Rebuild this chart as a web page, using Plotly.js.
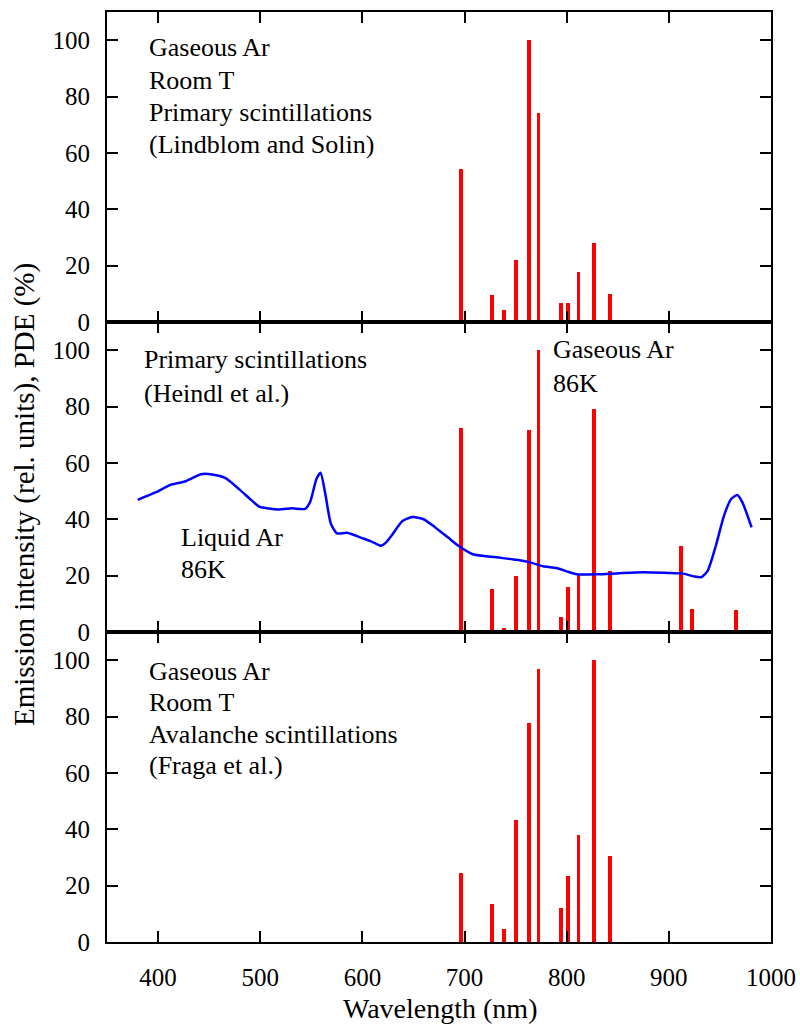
<!DOCTYPE html>
<html>
<head>
<meta charset="utf-8">
<script src="https://cdn.plot.ly/plotly-3.0.1.min.js"></script>
<style>html,body{margin:0;padding:0;background:#fff;}#chart{width:800px;height:1032px;}</style>
</head>
<body>
<div id="chart"></div>
<script>
// Ar I emission lines (nm)
const lineWl = [696.5, 727.3, 738.4, 750.4, 763.5, 772.4, 794.8, 801.5, 811.5, 826.5, 842.5];
// Top panel: gaseous Ar, room T, primary scintillations (Lindblom and Solin)
const topVal = [54.2, 9.6, 4.2, 21.9, 100, 74.0, 6.9, 6.9, 17.9, 27.9, 9.8];
// Middle panel: gaseous Ar 86K, primary scintillations (Heindl et al.)
const midWl = [696.5, 727.3, 738.4, 750.4, 763.5, 772.4, 794.8, 801.5, 811.5, 826.5, 842.5, 912.3, 922.4, 965.8];
const midVal = [72.4, 15.1, 1.3, 19.8, 71.6, 100, 5.5, 16.1, 20.3, 79.2, 21.5, 30.4, 8.2, 7.7];
// Bottom panel: gaseous Ar, room T, avalanche scintillations (Fraga et al.)
const botVal = [24.4, 13.5, 4.6, 43.3, 77.6, 96.9, 12.1, 23.5, 37.9, 100, 30.4];
// Liquid Ar 86K continuous spectrum (blue curve, middle panel)
const larWl = [380, 398, 412, 427, 442, 453, 466, 479, 491, 499, 518, 531, 544, 549, 555, 559, 564, 569, 575, 585, 600, 609, 618, 623, 629, 639, 649, 660, 671, 684, 694, 708, 731, 751, 764, 777, 790, 800, 810, 830, 849, 875, 902, 913, 925, 932, 938, 946, 954, 961, 967, 972, 981];
const larVal = [46.9, 49.6, 52.2, 53.5, 56.0, 55.9, 54.6, 50.8, 46.9, 44.5, 43.5, 43.9, 43.7, 46.3, 54.3, 56.5, 48.4, 38.6, 35.0, 35.2, 33.3, 32.1, 30.6, 31.7, 34.4, 39.3, 40.8, 40.0, 37.2, 33.5, 30.6, 27.6, 26.5, 25.6, 24.7, 23.3, 22.7, 21.5, 20.5, 20.5, 20.8, 21.2, 20.9, 20.8, 19.7, 19.5, 21.7, 30.6, 41.3, 47.2, 48.6, 46.0, 37.1];

const xTicks = [400, 500, 600, 700, 800, 900, 1000];
const yTicks = [0, 20, 40, 60, 80, 100];

const FONT = '"Liberation Serif", "DejaVu Serif", serif';
const W = 800, H = 1032;
const M = {l: 107, r: 29, t: 12, b: 90};
const PW = W - M.l - M.r, PH = H - M.t - M.b;
const px = x => (x - M.l) / PW;
const py = y => (H - M.b - y) / PH;

const barW = 3.8;
const barStyle = {type: 'bar', width: barW, marker: {color: '#ff0000', line: {width: 0}}, showlegend: false, hoverinfo: 'x+y'};

const traces = [
  Object.assign({x: lineWl, y: topVal, xaxis: 'x', yaxis: 'y'}, barStyle),
  Object.assign({x: midWl, y: midVal, xaxis: 'x2', yaxis: 'y2'}, barStyle),
  {x: larWl, y: larVal, xaxis: 'x2', yaxis: 'y2', type: 'scatter', mode: 'lines',
   line: {color: '#0000ff', width: 2.5, shape: 'spline', smoothing: 0.6}, showlegend: false},
  Object.assign({x: lineWl, y: botVal, xaxis: 'x3', yaxis: 'y3'}, barStyle)
];

function xax(anchor, labels) {
  return {anchor: anchor, range: [350, 1000], tickvals: xTicks, ticktext: xTicks.map(String),
    ticks: 'inside', ticklen: 11, tickwidth: 2, tickcolor: '#000',
    showline: true, linewidth: 2, linecolor: '#000', mirror: 'ticks',
    showgrid: false, zeroline: false, showticklabels: labels, ticklabelstandoff: 12,
    tickfont: {family: FONT, size: 25, color: '#000'}, fixedrange: true};
}
function yax(anchor, domain) {
  return {anchor: anchor, domain: domain, range: [0, 110], tickvals: yTicks, ticktext: yTicks.map(String),
    ticks: 'inside', ticklen: 11, tickwidth: 2, tickcolor: '#000',
    showline: true, linewidth: 2, linecolor: '#000', mirror: 'ticks',
    showgrid: false, zeroline: false, ticklabelstandoff: 10,
    tickfont: {family: FONT, size: 25, color: '#000'}, fixedrange: true};
}

function label(text, x, y, size) {
  return {text: text, xref: 'paper', yref: 'paper', x: px(x), y: py(y),
    xanchor: 'left', yanchor: 'middle', showarrow: false,
    font: {family: FONT, size: size || 26, color: '#000'}};
}

const annotations = [
  label('Gaseous Ar', 147, 48), label('Room T', 147, 80), label('Primary scintillations', 147, 112), label('(Lindblom and Solin)', 147, 144),
  label('Primary scintillations', 142, 359), label('(Heindl et al.)', 142, 393),
  label('Gaseous Ar', 551, 350), label('86K', 551, 383),
  label('Liquid Ar', 179, 537), label('86K', 179, 569),
  label('Gaseous Ar', 147, 671), label('Room T', 147, 703), label('Avalanche scintillations', 147, 734), label('(Fraga et al.)', 147, 765),
  {text: 'Wavelength (nm)', xref: 'paper', yref: 'paper', x: px(440), y: py(1008), xanchor: 'center', yanchor: 'middle',
   showarrow: false, font: {family: FONT, size: 28, color: '#000'}},
  {text: 'Emission intensity (rel. units), PDE (%)', xref: 'paper', yref: 'paper', x: px(25), y: py(495), xanchor: 'center', yanchor: 'middle',
   textangle: -90, showarrow: false, font: {family: FONT, size: 29, color: '#000'}}
];

const layout = {
  width: W, height: H, margin: M, paper_bgcolor: '#fff', plot_bgcolor: '#fff',
  showlegend: false, bargap: 0, font: {family: FONT, color: '#000'},
  xaxis: xax('y', false), yaxis: yax('x', [2/3, 1]),
  xaxis2: xax('y2', false), yaxis2: yax('x2', [1/3, 2/3]),
  xaxis3: xax('y3', true), yaxis3: yax('x3', [0, 1/3]),
  annotations: annotations
};

Plotly.newPlot('chart', traces, layout, {displayModeBar: false, staticPlot: true});
</script>
</body>
</html>
